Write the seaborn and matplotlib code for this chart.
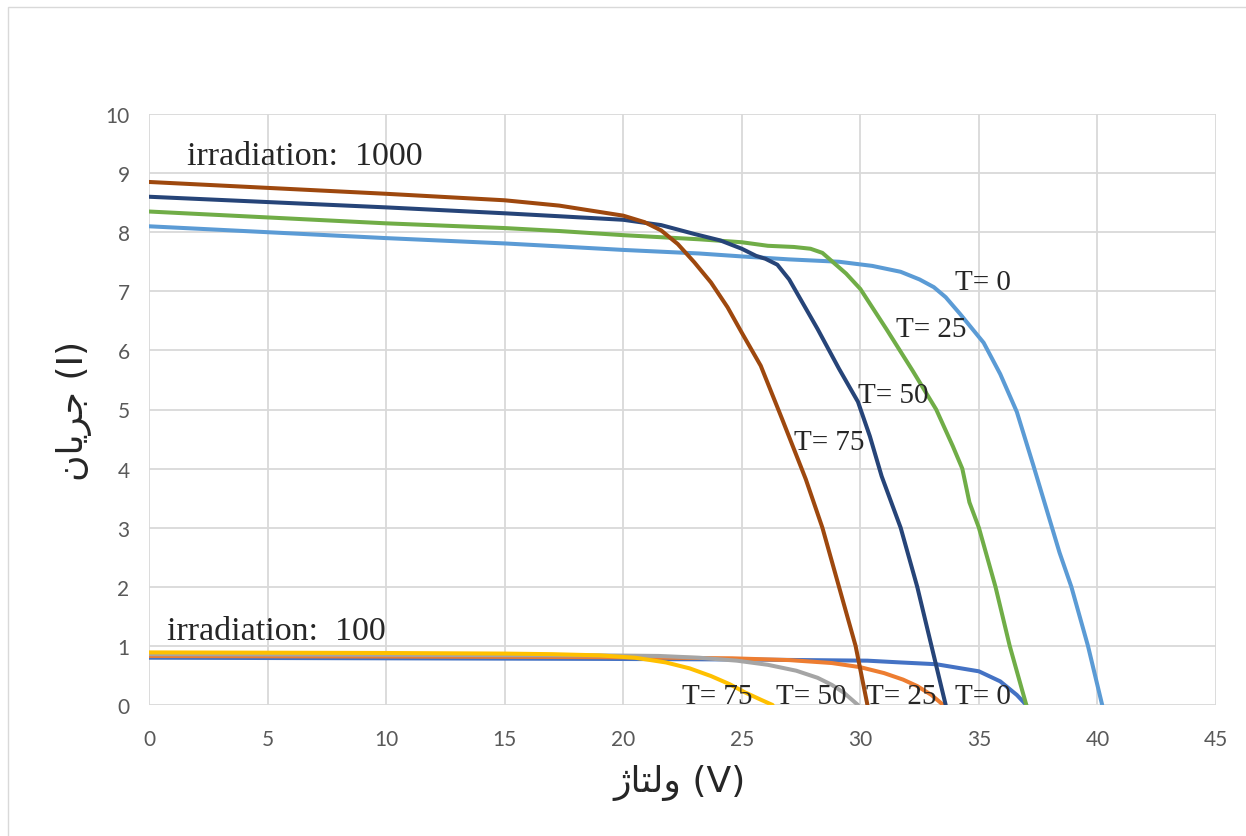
import pandas as pd
import matplotlib
import matplotlib.pyplot as plt
import seaborn as sns
from matplotlib.patches import Rectangle

matplotlib.use('Agg')

# I-V curves, irradiation 1000
v_1000_t0 = [0, 5, 10, 15, 17.3, 20, 23.2, 25, 25.8, 27, 29.1, 30.5, 31.7, 32.5, 33.1, 33.6, 34.2, 35.2, 35.9, 36.6, 37.3, 38.4, 38.9, 39.6, 40.2]
i_1000_t0 = [8.10, 8.00, 7.90, 7.81, 7.76, 7.70, 7.64, 7.59, 7.57, 7.54, 7.50, 7.43, 7.33, 7.20, 7.07, 6.90, 6.62, 6.13, 5.60, 4.96, 4.05, 2.58, 2.0, 1.0, 0]

v_1000_t25 = [0, 5, 10, 15, 17.3, 20, 23.2, 25, 26.1, 27.2, 27.9, 28.4, 28.8, 29.4, 30.0, 31.1, 32.2, 33.2, 33.9, 34.3, 34.6, 35.0, 35.7, 36.3, 37.0]
i_1000_t25 = [8.35, 8.25, 8.15, 8.07, 8.02, 7.95, 7.88, 7.83, 7.77, 7.75, 7.72, 7.65, 7.51, 7.30, 7.04, 6.36, 5.66, 5.0, 4.38, 4.0, 3.43, 3.0, 2.0, 1.0, 0]

v_1000_t50 = [0, 5, 10, 15, 17.3, 20, 21.6, 23.0, 24.1, 25.0, 25.6, 26.0, 26.5, 27.0, 27.3, 28.2, 29.1, 29.9, 30.4, 30.9, 31.7, 32.4, 33.0, 33.6]
i_1000_t50 = [8.60, 8.51, 8.42, 8.32, 8.27, 8.21, 8.12, 7.97, 7.86, 7.72, 7.60, 7.55, 7.45, 7.20, 6.99, 6.36, 5.69, 5.13, 4.55, 3.87, 3.0, 2.0, 1.0, 0]

v_1000_t75 = [0, 5, 10, 15, 17.3, 20, 20.9, 21.6, 22.3, 23.0, 23.7, 24.4, 25.0, 25.8, 26.7, 27.7, 28.4, 29.1, 29.8, 30.3]
i_1000_t75 = [8.85, 8.75, 8.65, 8.54, 8.45, 8.28, 8.17, 8.03, 7.80, 7.49, 7.15, 6.73, 6.30, 5.74, 4.84, 3.82, 3.0, 2.0, 1.0, 0]

# I-V curves, irradiation 100
v_100_t0 = [0, 10, 19, 25, 30.3, 31.7, 33.2, 35.0, 35.9, 36.6, 37.0]
i_100_t0 = [0.80, 0.79, 0.78, 0.77, 0.75, 0.72, 0.69, 0.57, 0.40, 0.17, 0]

v_100_t25 = [0, 10, 19, 24.6, 27.0, 28.8, 30.0, 31.0, 31.8, 32.4, 33.0, 33.5]
i_100_t25 = [0.83, 0.82, 0.81, 0.79, 0.76, 0.71, 0.64, 0.54, 0.43, 0.32, 0.17, 0]

v_100_t50 = [0, 10, 19, 21.5, 23.2, 24.8, 26.1, 27.3, 28.2, 28.8, 29.3, 29.9]
i_100_t50 = [0.86, 0.85, 0.84, 0.83, 0.80, 0.75, 0.68, 0.58, 0.46, 0.34, 0.21, 0]

v_100_t75 = [0, 10, 15, 17, 19, 20.5, 21.8, 22.8, 23.7, 24.5, 25.1, 25.8, 26.3]
i_100_t75 = [0.89, 0.88, 0.87, 0.86, 0.84, 0.80, 0.72, 0.62, 0.49, 0.35, 0.22, 0.09, 0]

series = [
    ('100 T0', v_100_t0, i_100_t0, '#4472C4'),
    ('100 T25', v_100_t25, i_100_t25, '#ED7D31'),
    ('100 T50', v_100_t50, i_100_t50, '#A5A5A5'),
    ('100 T75', v_100_t75, i_100_t75, '#FFC000'),
    ('1000 T0', v_1000_t0, i_1000_t0, '#5B9BD5'),
    ('1000 T25', v_1000_t25, i_1000_t25, '#70AD47'),
    ('1000 T50', v_1000_t50, i_1000_t50, '#264478'),
    ('1000 T75', v_1000_t75, i_1000_t75, '#9E480E'),
]

rows = []
for name, v, i, _ in series:
    for a, b in zip(v, i):
        rows.append({'V': a, 'I': b, 'series': name})
df = pd.DataFrame(rows)
order = [s[0] for s in series]
colors = {s[0]: s[3] for s in series}

sns.set_theme(style='white')
plt.rcParams['font.family'] = ['Lato', 'DejaVu Sans']

fig = plt.figure(figsize=(12.46, 8.37), dpi=100)
ax = fig.add_axes([149 / 1246, 1 - 706 / 837, 1067 / 1246, 591 / 837])

sns.lineplot(data=df, x='V', y='I', hue='series', hue_order=order, palette=colors,
             sort=False, estimator=None, linewidth=2.9, legend=False, ax=ax)

ax.set_xlim(0, 45)
ax.set_ylim(0, 10)
ax.set_xticks(range(0, 46, 5))
ax.set_yticks(range(0, 11, 1))
ax.grid(True, color='#D9D9D9', linewidth=1.3)
ax.set_axisbelow(True)
for s in ax.spines.values():
    s.set_visible(False)
ax.tick_params(length=0, labelsize=15, labelcolor='#595959')
ax.tick_params(axis='x', pad=17)
ax.tick_params(axis='y', pad=14)

serif = ['Liberation Serif']
ax.text(1.6, 9.3, 'irradiation:  1000', fontsize=24.5, family=serif, va='center')
ax.text(0.76, 1.25, 'irradiation:  100', fontsize=24.5, family=serif, va='center')
ax.text(34.0, 7.16, 'T= 0', fontsize=21, family=serif, va='center')
ax.text(31.5, 6.36, 'T= 25', fontsize=21, family=serif, va='center')
ax.text(29.9, 5.25, 'T= 50', fontsize=21, family=serif, va='center')
ax.text(27.2, 4.45, 'T= 75', fontsize=21, family=serif, va='center')
ax.text(22.5, 0.15, 'T= 75', fontsize=21, family=serif, va='center')
ax.text(26.45, 0.15, 'T= 50', fontsize=21, family=serif, va='center')
ax.text(30.25, 0.15, 'T= 25', fontsize=21, family=serif, va='center')
ax.text(34.0, 0.15, 'T= 0', fontsize=21, family=serif, va='center')

# Persian labels in visual order (presentation forms)
ax.set_xlabel('\u0698\uFE8E\uFE98\uFEDF\u0648 (V)', fontsize=26, family=['DejaVu Sans'])
ax.set_ylabel('\u0646\uFE8E\uFBFE\uFEAE\uFE9F (I)', fontsize=26, family=['DejaVu Sans'])
ax.xaxis.set_label_coords(0.497, -0.10)
ax.yaxis.set_label_coords(-0.053, 0.5)

fig.patches.append(Rectangle((8 / 1246, -0.02), 1.1, 1 - 8 / 837 + 0.02, transform=fig.transFigure,
                             fill=False, edgecolor='#D9D9D9', linewidth=1))

plt.savefig('out.png', dpi=100)
plt.close()
